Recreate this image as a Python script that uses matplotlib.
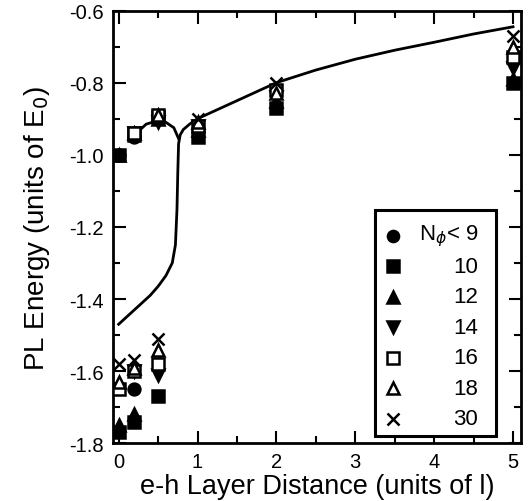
import matplotlib
matplotlib.use("Agg")
import matplotlib.pyplot as plt
from matplotlib.patches import Rectangle
from matplotlib.ticker import MultipleLocator, FuncFormatter

plt.rcParams['font.family'] = ['Liberation Sans', 'DejaVu Sans']

# PL energies for each flux number, x = e-h layer distance
labels = [r"N$_\phi$< 9", "10", "12", "14", "16", "18", "30"]

x_lt9 = [0, 0.2, 0.2]
y_lt9 = [-1.0, -0.95, -1.65]

x_10 = [0, 0.2, 0.5, 1, 2, 5, 0, 0.2, 0.5]
y_10 = [-1.0, -0.945, -0.895, -0.95, -0.87, -0.80, -1.77, -1.74, -1.67]

x_12 = [0, 0.2, 0.5, 1, 2, 5, 0, 0.2]
y_12 = [-1.0, -0.94, -0.90, -0.93, -0.85, -0.79, -1.75, -1.72]

x_14 = [0.2, 0.5, 1, 2, 5, 0.2, 0.5]
y_14 = [-0.94, -0.91, -0.92, -0.84, -0.76, -1.60, -1.61]

x_16 = [0.2, 0.5, 1, 2, 5, 0, 0.2, 0.5]
y_16 = [-0.94, -0.89, -0.92, -0.82, -0.73, -1.65, -1.60, -1.58]

x_18 = [0.5, 1, 2, 5, 0, 0.2, 0.5]
y_18 = [-0.89, -0.91, -0.83, -0.70, -1.63, -1.59, -1.54]

x_30 = [1, 2, 5, 0, 0.2, 0.5]
y_30 = [-0.90, -0.80, -0.67, -1.58, -1.57, -1.51]

# theory curve
curve_x = [0, 0.1, 0.2, 0.3, 0.4, 0.5, 0.6, 0.68, 0.72, 0.74, 0.75, 0.76,
           0.78, 0.82, 0.9, 1.0, 1.25, 1.5, 1.75, 2, 2.5, 3, 3.5, 4, 4.5, 5]
curve_y = [-1.47, -1.45, -1.43, -1.41, -1.39, -1.365, -1.335, -1.30, -1.25,
           -1.15, -1.05, -0.97, -0.945, -0.93, -0.915, -0.90, -0.875, -0.85,
           -0.825, -0.80, -0.765, -0.735, -0.71, -0.688, -0.665, -0.645]
branch_x = [0.2, 0.35, 0.5, 0.6, 0.7, 0.76]
branch_y = [-0.945, -0.915, -0.905, -0.91, -0.925, -0.955]

series = [
    (x_lt9, y_lt9, dict(marker='o', mfc='k')),
    (x_10, y_10, dict(marker='s', mfc='k')),
    (x_12, y_12, dict(marker='^', mfc='k')),
    (x_14, y_14, dict(marker='v', mfc='k')),
    (x_16, y_16, dict(marker='s', mfc='white')),
    (x_18, y_18, dict(marker='^', mfc='white')),
    (x_30, y_30, dict(marker='x', mfc='k')),
]

fig = plt.figure(figsize=(5.31, 5.02), dpi=100)
ax = fig.add_axes([0.213, 0.115, 0.768, 0.862])

ax.plot(curve_x, curve_y, color='k', lw=2, zorder=2)
ax.plot(branch_x, branch_y, color='k', lw=2, zorder=2)

for xs, ys, st in series:
    ax.plot(xs, ys, ls='none', color='k', mec='k', ms=8.5, mew=1.8, zorder=3, **st)

ax.set_xlim(-0.07, 5.1)
ax.set_ylim(-1.8, -0.6)
ax.xaxis.set_major_locator(MultipleLocator(1))
ax.xaxis.set_minor_locator(MultipleLocator(0.5))
ax.yaxis.set_major_locator(MultipleLocator(0.2))
ax.yaxis.set_minor_locator(MultipleLocator(0.1))
ax.yaxis.set_major_formatter(FuncFormatter(lambda v, p: "%.1f" % v))
ax.tick_params(which='both', direction='in', top=True, right=True, width=1.5)
ax.tick_params(which='major', length=9, labelsize=14.5)
ax.tick_params(axis='y', which='major', pad=7)
ax.tick_params(axis='x', which='major', pad=6)
ax.tick_params(which='minor', length=5)
for s in ax.spines.values():
    s.set_linewidth(2)

ax.set_xlabel("e-h Layer Distance (units of l)", fontsize=19.5, labelpad=2)
ax.set_ylabel(r"PL Energy (units of E$_0$)", fontsize=20, labelpad=12)

# legend box
ax.add_patch(Rectangle((0.642, 0.016), 0.298, 0.522, transform=ax.transAxes,
                       fill=True, fc='white', ec='k', lw=2.2, zorder=5))
row_y = [0.48 - i * 0.0705 for i in range(len(labels))]
for (xs, ys, st), lab, yy in zip(series, labels, row_y):
    ax.plot([0.686], [yy], transform=ax.transAxes, ls='none', color='k', mec='k',
            ms=8, mew=1.8, zorder=6, clip_on=False, **st)
    ax.text(0.895, yy, lab, transform=ax.transAxes, ha='right', va='center',
            fontsize=16, zorder=6)

fig.savefig("out.png", dpi=100)
